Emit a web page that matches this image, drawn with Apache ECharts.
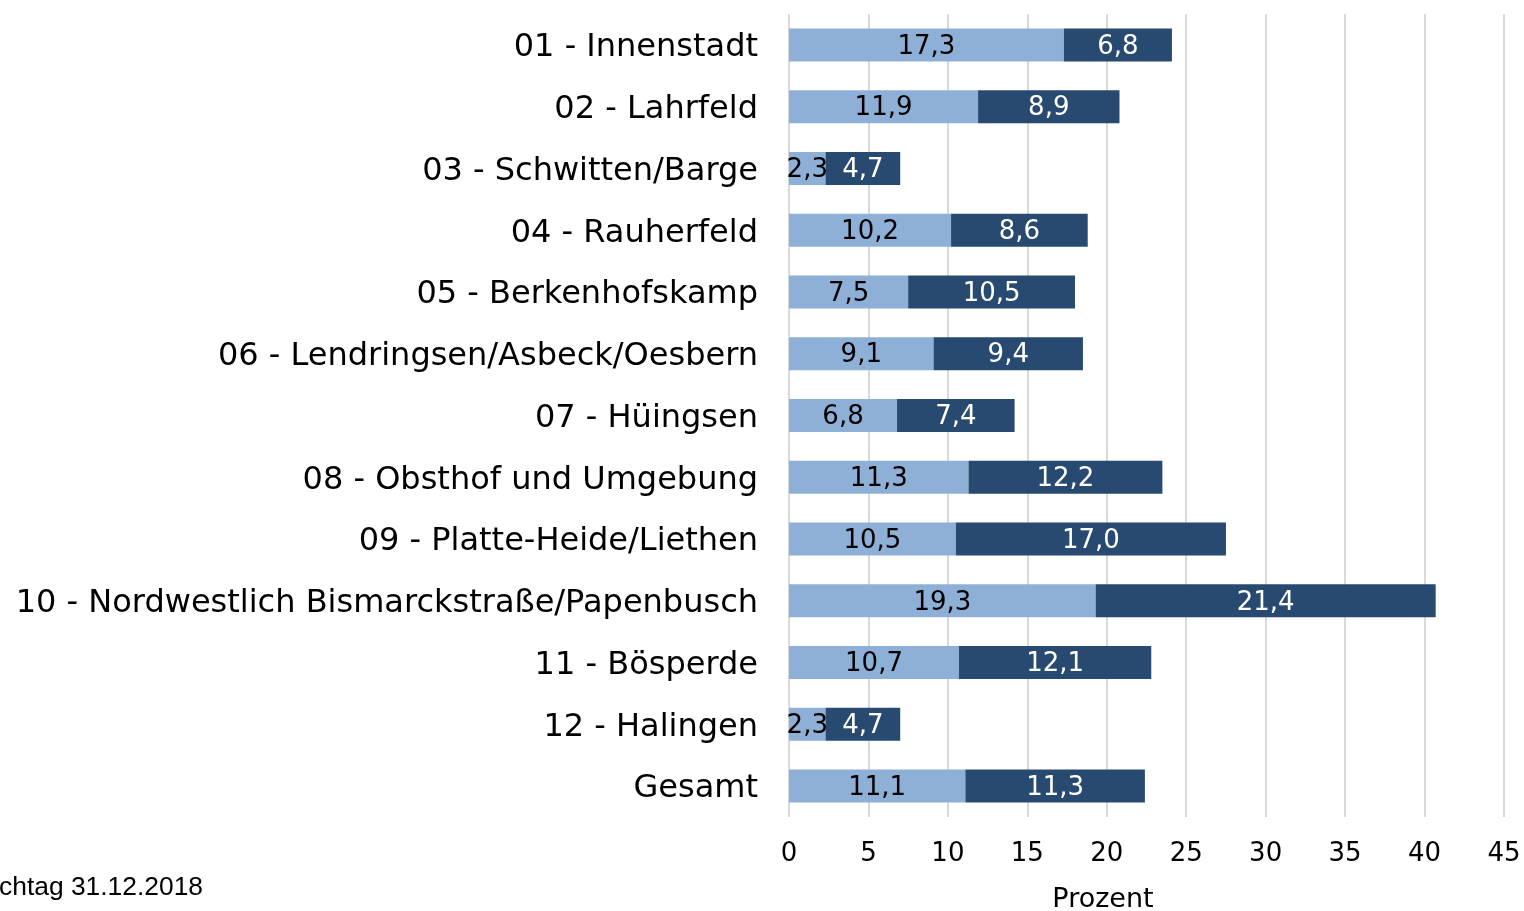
<!DOCTYPE html>
<html>
<head>
<meta charset="utf-8">
<script src="https://cdn.jsdelivr.net/npm/echarts@6/dist/echarts.min.js"></script>
<style>
  html, body { margin: 0; padding: 0; background: #fff; }
  #chart { width: 1524px; height: 911px; }
</style>
</head>
<body>
<div id="chart"></div>
<script>
// Stadtteile, von oben nach unten
var categories = [
    "01 - Innenstadt",
    "02 - Lahrfeld",
    "03 - Schwitten/Barge",
    "04 - Rauherfeld",
    "05 - Berkenhofskamp",
    "06 - Lendringsen/Asbeck/Oesbern",
    "07 - Hüingsen",
    "08 - Obsthof und Umgebung",
    "09 - Platte-Heide/Liethen",
    "10 - Nordwestlich Bismarckstraße/Papenbusch",
    "11 - Bösperde",
    "12 - Halingen",
    "Gesamt"
];
var hellWerte = [17.3, 11.9, 2.3, 10.2, 7.5, 9.1, 6.8, 11.3, 10.5, 19.3, 10.7, 2.3, 11.1];
var dunkelWerte = [6.8, 8.9, 4.7, 8.6, 10.5, 9.4, 7.4, 12.2, 17.0, 21.4, 12.1, 4.7, 11.3];
var xTicks = [0, 5, 10, 15, 20, 25, 30, 35, 40, 45];

var chart = echarts.init(document.getElementById("chart"));

function fmt(p) {
    return p.value.toFixed(1).replace(".", ",");
}

var option = {
    animation: false,
    grid: { left: 789, right: 20, top: 14, bottom: 94, containLabel: false },
    xAxis: {
        type: "value",
        min: xTicks[0],
        max: xTicks[xTicks.length - 1],
        interval: 5,
        axisLine: { show: false },
        axisTick: { show: false },
        axisLabel: { fontFamily: "DejaVu Sans", fontSize: 26, color: "#000", margin: 24 },
        splitLine: { lineStyle: { color: "#d9d9d9", width: 2 } }
    },
    yAxis: {
        type: "category",
        data: categories,
        inverse: true,
        axisLine: { show: false },
        axisTick: { show: false },
        axisLabel: {
            margin: 31,
            formatter: function (v) { return "{c|" + v + "}"; },
            rich: {
                c: { fontFamily: "DejaVu Sans", fontSize: 32, color: "#000", padding: [6, 0, 0, 0] }
            }
        }
    },
    series: [
        {
            name: "hell",
            type: "bar",
            stack: "a",
            data: hellWerte,
            barWidth: 33,
            itemStyle: { color: "#8fb0d6" },
            label: { show: true, position: "inside", formatter: fmt, offset: [0, 2],
                     fontFamily: "DejaVu Sans", fontSize: 26, color: "#000" }
        },
        {
            name: "dunkel",
            type: "bar",
            stack: "a",
            data: dunkelWerte,
            barWidth: 33,
            itemStyle: { color: "#284a70" },
            label: { show: true, position: "inside", formatter: fmt, offset: [0, 2],
                     fontFamily: "DejaVu Sans", fontSize: 26, color: "#fff" }
        }
    ],
    graphic: [
        {
            type: "text",
            x: 1103,
            y: 900,
            style: { text: "Prozent", fontFamily: "DejaVu Sans", fontSize: 27, fill: "#000",
                     align: "center", verticalAlign: "middle" }
        },
        {
            type: "text",
            x: 203,
            y: 888,
            style: { text: "Stichtag 31.12.2018", fontFamily: "Liberation Sans", fontSize: 26.4, fill: "#000",
                     align: "right", verticalAlign: "middle" }
        }
    ]
};
chart.setOption(option);
</script>
</body>
</html>
